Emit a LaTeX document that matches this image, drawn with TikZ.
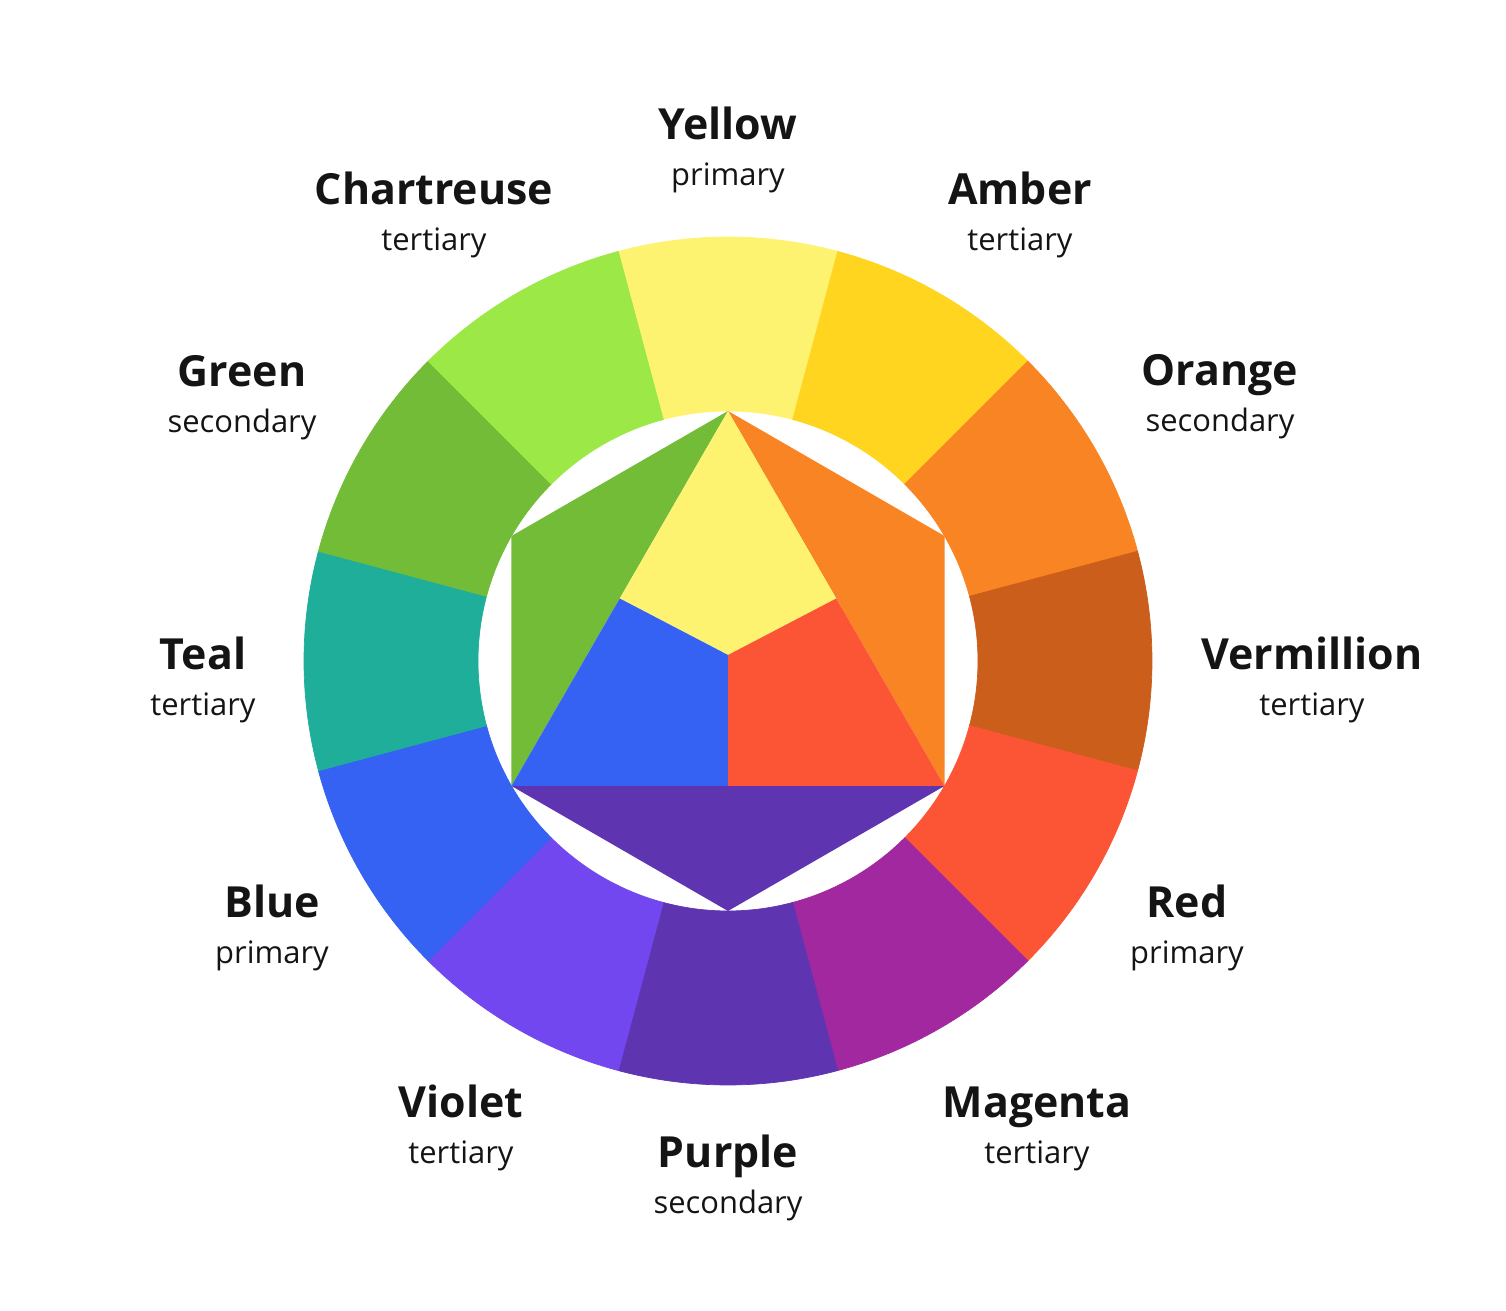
\documentclass[tikz,border=0pt]{standalone}
\usepackage{fontspec}
\setmainfont{Open Sans}
\usetikzlibrary{calc}

\definecolor{cYellow}{HTML}{FEF370}
\definecolor{cAmber}{HTML}{FFD520}
\definecolor{cOrange}{HTML}{F98424}
\definecolor{cVermillion}{HTML}{CB5E1B}
\definecolor{cRed}{HTML}{FB5535}
\definecolor{cMagenta}{HTML}{A228A0}
\definecolor{cPurple}{HTML}{5F34B1}
\definecolor{cViolet}{HTML}{7247F0}
\definecolor{cBlue}{HTML}{3562F2}
\definecolor{cTeal}{HTML}{1EAE9A}
\definecolor{cGreen}{HTML}{73BC37}
\definecolor{cChartreuse}{HTML}{9BE846}

\begin{document}
\begin{tikzpicture}[%
        colname/.style = {anchor = base, inner sep = 0pt,
            font = \fontsize{12.2}{14}\selectfont\bfseries, text = black!92},
        colkind/.style = {anchor = base, inner sep = 0pt,
            font = \fontsize{8.8}{10}\selectfont, text = black!92},
        wedge/.style = {line width = 0.2pt}
    ]

        \useasboundingbox (-7.28, 6.61) rectangle (7.78, -6.50);

        % Radii of the ring.
        \def\rin{2.5}
        \def\rout{4.24}

        % The twelve wedges of the outer ring, centred on their angle.
        \foreach \a/\c in {90/cYellow, 60/cAmber, 30/cOrange, 0/cVermillion,
                           -30/cRed, -60/cMagenta, -90/cPurple, -120/cViolet,
                           -150/cBlue, 180/cTeal, 150/cGreen, 120/cChartreuse}{
            \fill[\c, draw = \c, wedge] (\a-15:\rin)
                arc[start angle = \a-15, end angle = \a+15, radius = \rin]
                -- (\a+15:\rout)
                arc[start angle = \a+15, end angle = \a-15, radius = \rout]
                -- cycle;
        }

        % Corners of the hexagon inside the ring.
        \coordinate (T) at (90:\rin);
        \coordinate (TR) at (30:\rin);
        \coordinate (BR) at (-30:\rin);
        \coordinate (B) at (-90:\rin);
        \coordinate (BL) at (-150:\rin);
        \coordinate (TL) at (150:\rin);

        % Midpoints of the big triangle and the point where they meet.
        \coordinate (M) at (0, 0.06);
        \coordinate (ML) at ($(T)!0.5!(BL)$);
        \coordinate (MR) at ($(T)!0.5!(BR)$);
        \coordinate (MB) at ($(BL)!0.5!(BR)$);

        % Secondary triangles.
        \fill[cGreen] (T) -- (TL) -- (BL) -- cycle;
        \fill[cOrange] (T) -- (TR) -- (BR) -- cycle;
        \fill[cPurple] (BL) -- (B) -- (BR) -- cycle;

        % Primary parts of the big triangle.
        \fill[cYellow] (T) -- (MR) -- (M) -- (ML) -- cycle;
        \fill[cRed] (MR) -- (BR) -- (MB) -- (M) -- cycle;
        \fill[cBlue] (ML) -- (M) -- (MB) -- (BL) -- cycle;

        % Names of the colours and their kinds.
        \foreach \x/\y/\name/\kind [count = \i] in {
                0.00/5.21/Yellow/primary,
                2.92/4.56/Amber/tertiary,
                4.92/2.75/Orange/secondary,
                5.84/-0.09/Vermillion/tertiary,
                4.59/-2.57/Red/primary,
                3.09/-4.57/Magenta/tertiary,
                0.00/-5.07/Purple/secondary,
                -2.67/-4.57/Violet/tertiary,
                -4.56/-2.57/Blue/primary,
                -5.25/-0.09/Teal/tertiary,
                -4.86/2.74/Green/secondary,
                -2.94/4.56/Chartreuse/tertiary}{
            \node[colname] (name\i) at (\x, \y) {\name};
            \node[colkind] (kind\i) at (\x, \y-0.455) {\kind};
        }
    \end{tikzpicture}
\end{document}
